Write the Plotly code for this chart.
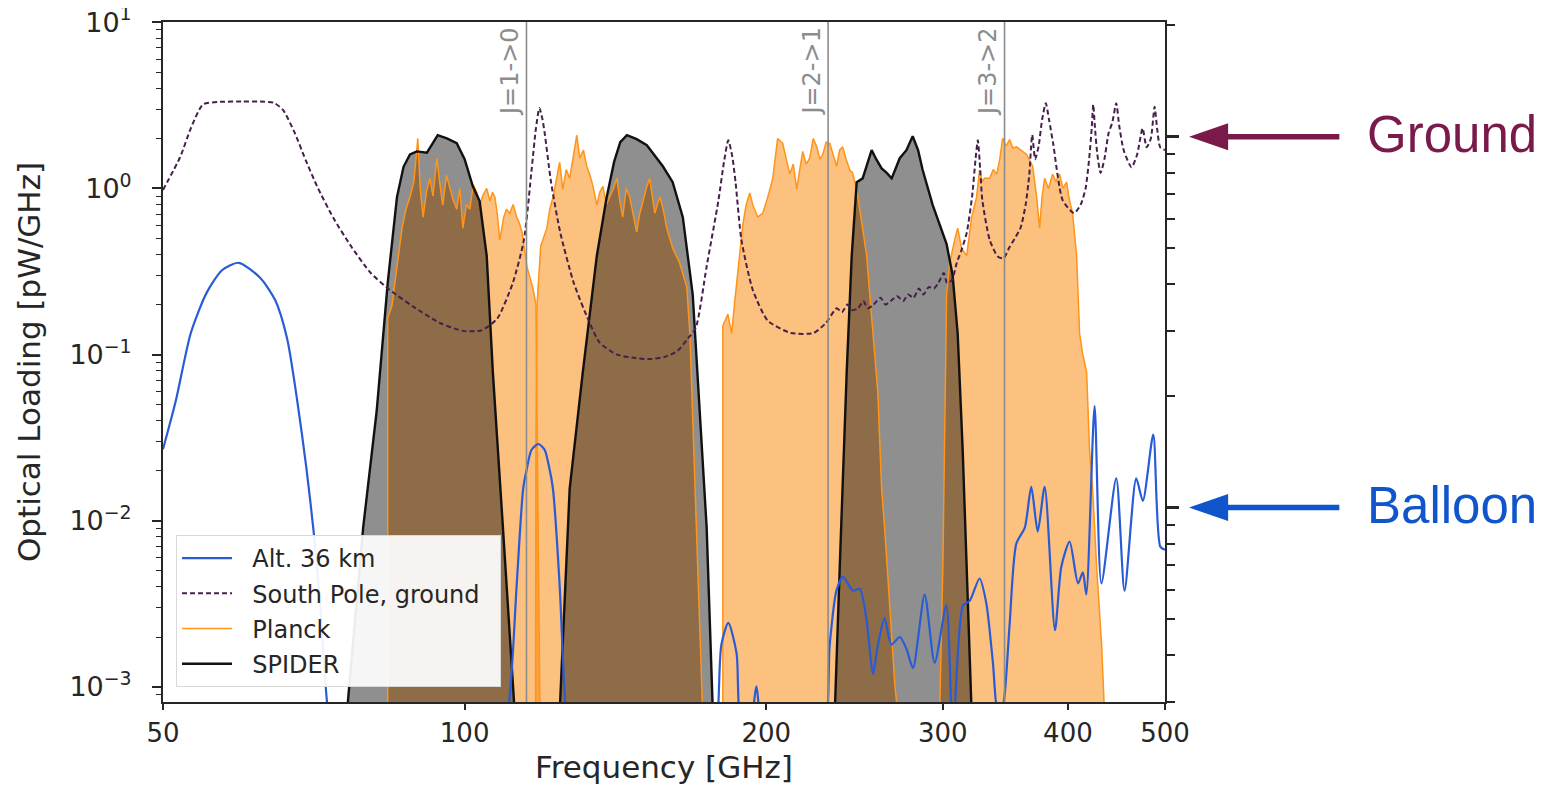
import math
import plotly.graph_objects as go

# ---------------- data ----------------
# Alt. 36 km (balloon) atmospheric loading
ALT_F = [50, 51.5, 53.3, 55.3, 57.3, 59.5, 62.5, 64.7, 66.5, 68.0, 69.5, 70.7, 71.7, 72.9, 76, 90, 105,
         110.9, 112.7, 114.4, 115.3, 116.6, 118.5, 120.2, 121.6, 122.5, 124.4, 125.9, 130, 150, 170,
         178.4, 180.4, 183.3, 186.8, 188.9, 192.6, 195.5, 197.8, 210, 227.9, 231.4, 235.0, 238.6, 244.1,
         247.9, 251.7, 255.6, 258.5, 262.5, 266.6, 271.8, 276.0, 280.2, 287.8, 294.5, 302.5, 307.1,
         314.3, 319.2, 326.5, 331.6, 336.7, 340.6, 343.3, 345.9, 349.9, 355.3, 362.3, 367.7, 373.2,
         379.2, 388.3, 394.0, 401.6, 409.4, 414.0, 417.3, 425.3, 432.0, 447.0, 455.6, 468.0, 475.2,
         486.7, 494.6, 500]
ALT_V = [0.027, 0.053, 0.135, 0.237, 0.323, 0.357, 0.29, 0.213, 0.125, 0.055, 0.021, 0.0085, 0.0033,
         0.0008, 0.0001, 0.00003, 0.0001,
         0.00088, 0.0041, 0.0156, 0.0202, 0.0267, 0.029, 0.0267, 0.0202, 0.0156, 0.0041, 0.00088,
         0.0001, 0.00003, 0.0001,
         0.0005, 0.0018, 0.00243, 0.0016, 0.0006, 0.0006, 0.00101, 0.0006, 0.0003, 0.0005, 0.0018,
         0.0038, 0.0046, 0.0038, 0.0039, 0.0026, 0.0012, 0.0018, 0.0026, 0.0018, 0.0020, 0.0017,
         0.0013, 0.0036, 0.0014, 0.0031, 0.0005, 0.0031, 0.0033, 0.0045, 0.0032, 0.0014, 0.0007,
         0.0007, 0.0009, 0.0024, 0.0073, 0.0091, 0.016, 0.0086, 0.016, 0.0022, 0.0053, 0.0075,
         0.0042, 0.0049, 0.0036, 0.049, 0.0042, 0.018, 0.0038, 0.018, 0.0132, 0.033, 0.007, 0.0067]

# South Pole, ground
GND_F = [50, 52.0, 53.3, 54.8, 57, 60, 62.5, 64.5, 65.9, 67.7, 69.4, 71.3, 73.9, 77.2, 80.6, 84.2,
         88.8, 94.5, 99.6, 104.0, 107.8, 111.7, 114.6, 116.7, 117.8, 118.75, 119.6, 120.2, 122.0,
         124.6, 128.5, 133.0, 136.4, 142, 148.9, 153, 158.4, 163, 167.0, 170.1, 174.4, 179.2, 181.5,
         183.3, 185, 186.4, 188.9, 193.9, 200.7, 211.6, 223.0, 229.4, 235.1, 238, 241, 243.7, 247,
         250, 252.5, 256, 260, 263, 266.2, 270, 274, 277, 280.6, 284, 287, 290.5, 294, 297, 300.8,
         303, 306.3, 310, 313, 317.0, 321, 323.5, 325.2, 327, 328.6, 334.2, 340.4, 345, 349.5, 354,
         358.8, 363, 366, 368.5, 371, 374, 377, 380.2, 383, 386.6, 395.2, 405.7, 412, 416.6, 420,
         422.5, 424, 425.5, 428, 431.2, 435, 439.2, 443, 447.0, 450, 454.7, 463.0, 469, 474.9,
         479.3, 484, 488.2, 491, 494.5, 500]
GND_V = [0.98, 1.54, 2.3, 3.2, 3.32, 3.33, 3.33, 3.28, 2.96, 2.15, 1.48, 1.02, 0.67, 0.44, 0.31, 0.245,
         0.195, 0.155, 0.139, 0.14, 0.165, 0.27, 0.49, 1.34, 2.3, 3.05, 2.6, 2.15, 1.08,
         0.54, 0.27, 0.16, 0.118, 0.1, 0.095, 0.094, 0.097, 0.105, 0.125, 0.145, 0.34, 0.85, 1.45,
         1.95, 1.55, 1.08, 0.49, 0.245, 0.16, 0.135, 0.135, 0.155, 0.19, 0.18, 0.2, 0.185, 0.19,
         0.21, 0.19, 0.2, 0.22, 0.2, 0.21, 0.225, 0.21, 0.23, 0.22, 0.25, 0.23, 0.255, 0.25, 0.27, 0.31,
         0.27, 0.28, 0.36, 0.42, 0.54, 0.9, 1.5, 1.95, 1.3, 0.85, 0.49, 0.39, 0.38, 0.44, 0.5,
         0.58, 0.8, 1.2, 2.1, 1.5, 1.8, 2.6, 3.26, 2.6, 1.88, 0.85, 0.71, 0.8, 1.0, 1.5,
         2.3, 3.2, 2.4, 1.6, 1.24, 1.5, 2.15, 2.5, 3.26, 2.4, 1.7, 1.34, 1.6, 2.3,
         1.77, 2.0, 3.1, 2.3, 1.77, 1.7]

# Planck HFI bands
P100_F = [83.8, 84.6, 85.6, 86.6, 87.4, 88.2, 89.0, 89.8, 90.3, 90.9, 91.6, 92.3, 93.0, 93.8, 94.4,
          95.1, 95.9, 96.7, 97.4, 98.2, 98.9, 99.6, 100.4, 101.2, 102.0, 102.9, 103.6, 104.3, 105.2,
          106.0, 106.6, 107.2, 107.8, 108.4, 109.4, 110.1, 110.9, 111.8, 112.7, 113.4, 114.1, 115.4,
          117.0, 117.8, 118.2, 118.9]
P100_V = [0.166, 0.196, 0.337, 0.577, 0.75, 0.887, 1.1, 2.0, 1.0, 0.672, 0.95, 1.15, 0.9, 1.52, 1.1,
          0.794, 1.2, 0.99, 0.85, 0.75, 1.0, 0.577, 0.8, 0.75, 1.05, 0.94, 0.8, 0.91, 1.0,
          0.84, 0.95, 0.887, 0.7, 0.489, 0.672, 0.75, 0.71, 0.8, 0.672, 0.62, 0.546, 0.337,
          0.25, 0.2, 0.03, 0.0007]
P143_F = [117.6, 117.8, 118.1, 119.1, 120.8, 121.6, 122.6, 123.6, 124.4, 125.3, 126.3, 127.3, 128.4,
          129.4, 130.3, 131.4, 132.4, 133.4, 134.3, 135.5, 136.4, 137.4, 138.5, 139.6, 140.8, 141.9,
          142.8, 143.8, 145.0, 146.1, 147.3, 148.5, 149.5, 150.6, 151.8, 153.0, 154.8, 156.6, 157.8,
          159.1, 161.3, 163.9, 166.6, 167.8, 169.3, 170.9, 172.8]
P143_V = [0.0007, 0.03, 0.2, 0.45, 0.577, 0.75, 0.9, 1.15, 1.44, 0.99, 1.3, 1.15, 1.6,
          2.09, 1.52, 1.7, 1.36, 1.2, 1.03, 0.794, 0.95, 1.03, 0.8, 0.89, 1.0, 1.15,
          0.85, 0.672, 1.0, 0.89, 0.7, 0.546, 0.7, 0.84, 1.0, 1.15, 0.71, 0.89, 0.75,
          0.577, 0.437, 0.356, 0.255, 0.134, 0.03, 0.005, 0.0007]
P217_F = [181.0, 183.1, 184.7, 186.0, 188.2, 189.5, 191.0, 192.6, 193.9, 196.1, 198.4, 200.7, 203.0,
          205.3, 207.7, 209.5, 211.1, 212.8, 214.5, 216.0, 217.5, 219.2, 221.0, 222.8, 224.6, 226.2,
          227.7, 229.5, 231.4, 233.2, 235.1, 236.7, 238.4, 240.3, 242.3, 243.8, 245.0, 246.5, 247.9,
          249.6, 251.9, 253.7, 255.4, 258.4, 260.7, 262.5, 265.6, 268.7, 270.5]
P217_V = [0.149, 0.175, 0.134, 0.207, 0.394, 0.605, 0.8, 0.94, 0.794, 0.672, 0.71, 0.887, 1.15,
          2.0, 1.87, 1.5, 1.22, 1.4, 0.99, 1.3, 1.67, 1.4, 1.52, 2.0, 1.78, 1.5,
          1.6, 1.9, 1.87, 1.6, 1.36, 1.7, 1.78, 1.5, 1.29, 1.25, 1.09, 0.95, 0.75,
          0.577, 0.394, 0.23, 0.134, 0.06, 0.0156, 0.0091, 0.0031, 0.00104, 0.0007]
P353_F = [297.9, 300.1, 301.5, 302.7, 304.8, 306.9, 308.3, 310.5, 313.3, 317.0, 320.6, 324.3, 326.5,
          328.4, 330.3, 334.2, 337, 339.6, 342, 344.3, 347, 349.9, 352.5, 355.5, 359.5, 363.8, 368.9,
          372.3, 374.8, 377, 379.2, 382.5, 386.2, 389, 392.4, 395.5, 398.8, 401.6, 404.3, 408.1,
          410.9, 413.7, 417.6, 420.4, 423.4, 427.3, 432.2, 435.1]
P353_V = [0.0007, 0.0053, 0.0458, 0.23, 0.356, 0.437, 0.489, 0.577, 0.437, 0.394, 0.672, 0.887, 1.29,
          1.1, 1.15, 1.15, 1.3, 1.22, 1.5, 2.0, 1.8, 1.97, 1.75, 1.78, 1.7, 1.6, 1.36,
          0.887, 0.577, 0.9, 1.15, 1.0, 1.22, 1.1, 1.22, 1.0, 1.09, 0.84, 0.71, 0.394,
          0.134, 0.102, 0.0785, 0.0267, 0.0156, 0.0053, 0.0018, 0.0007]

# SPIDER bands
S95_F = [76.3, 79.2, 80.5, 81.7, 83.8, 85.6, 86.9, 88.2, 89.6, 91.7, 94.0, 96.0, 98.2, 100.0, 101.9,
         103.5, 105.2, 106.7, 109.2, 112.2]
S95_V = [0.0007, 0.0091, 0.022, 0.0458, 0.27, 0.887, 1.35, 1.60, 1.67, 1.64, 2.09, 2.0, 1.87, 1.5, 1.03,
         0.84, 0.394, 0.0785, 0.0091, 0.0007]
S150_F = [124.4, 127.3, 131.2, 135.5, 138.6, 141.0, 143.0, 145.2, 148.5, 152.0, 157.7, 161.3, 165.1,
          168.9, 171.7, 174.4, 176.9]
S150_V = [0.0007, 0.0156, 0.0785, 0.394, 0.887, 1.45, 1.9, 2.09, 1.98, 1.82, 1.36, 1.09, 0.672,
          0.23, 0.0458, 0.0091, 0.0007]
S280_F = [234.1, 236.8, 240.6, 243.4, 246.2, 249.6, 254.8, 257.5, 260.7, 263.5, 266.8, 269, 271.8, 276,
          280.0, 283.5, 286.5, 293.2, 302.7, 306.9, 310.5, 314.1, 317.0, 320.6]
S280_V = [0.0007, 0.0053, 0.0785, 0.394, 1.09, 1.15, 1.70, 1.5, 1.32, 1.25, 1.15, 1.3, 1.52, 1.7,
          2.06, 1.7, 1.29, 0.794, 0.462, 0.301, 0.134, 0.0267, 0.0053, 0.0007]

# CO lines
CO_F = [115.27, 230.54, 345.80]
CO_LABELS = ["J=1->0", "J=2->1", "J=3->2"]

# axes
X_TICKS = [50, 100, 200, 300, 400, 500]
Y_TICKS = [1e-3, 1e-2, 1e-1, 1, 10]
Y_TICKTEXT = ["10<sup>\u22123</sup>", "10<sup>\u22122</sup>", "10<sup>\u22121</sup>",
              "10<sup>0</sup>", "10<sup>1</sup>"]
Y_RANGE = [-3.09, 1.0015]
# right-hand reference axis: Ground / Balloon levels
RIGHT_LEVELS = {"Ground": 1.0, "Balloon": 0.1}
RIGHT_COLORS = {"Ground": "#7a1a4a", "Balloon": "#1155cc"}
Y2_RANGE = [-1.524, 0.309]

FLOOR = 1e-5
INK = "#262626"
FONT = "DejaVu Sans"
PAD = "\u00a0\u00a0"  # small gap between legend sample and label


def polygon(f, v):
    return [f[0]] + list(f) + [f[-1]], [FLOOR] + list(v) + [FLOOR]


fig = go.Figure()

planck = [(P100_F, P100_V), (P143_F, P143_V), (P217_F, P217_V), (P353_F, P353_V)]
spider = [(S95_F, S95_V), (S150_F, S150_V), (S280_F, S280_V)]

# fills
for f, v in planck:
    xs, ys = polygon(f, v)
    fig.add_trace(go.Scatter(x=xs, y=ys, mode="lines", fill="toself",
                             fillcolor="rgba(250,130,0,0.5)", line=dict(width=0),
                             showlegend=False, hoverinfo="skip"))
for f, v in spider:
    xs, ys = polygon(f, v)
    fig.add_trace(go.Scatter(x=xs, y=ys, mode="lines", fill="toself",
                             fillcolor="rgba(0,0,0,0.44)", line=dict(width=0),
                             showlegend=False, hoverinfo="skip"))

# CO line markers (on right axis so that axis is drawn)
for f in CO_F:
    fig.add_trace(go.Scatter(x=[f, f], y=[1e-4, 100], mode="lines", yaxis="y2",
                             line=dict(color="#8c8c8c", width=1.6),
                             showlegend=False, hoverinfo="skip"))

# band outlines
for i, (f, v) in enumerate(planck):
    xs, ys = polygon(f, v)
    fig.add_trace(go.Scatter(x=xs, y=ys, mode="lines", name=PAD + "Planck",
                             line=dict(color="#ff9418", width=1.5),
                             legendgroup="planck", showlegend=(i == 0), legendrank=3))
for i, (f, v) in enumerate(spider):
    xs, ys = polygon(f, v)
    fig.add_trace(go.Scatter(x=xs, y=ys, mode="lines", name=PAD + "SPIDER",
                             line=dict(color="#111111", width=2.4),
                             legendgroup="spider", showlegend=(i == 0), legendrank=4))

fig.add_trace(go.Scatter(x=GND_F, y=GND_V, mode="lines",
                         name=PAD + "South Pole, ground" + PAD,
                         line=dict(color="#45204a", width=2, dash="5px,3px", shape="spline",
                                   smoothing=0.6),
                         legendgroup="gnd", legendrank=2))
fig.add_trace(go.Scatter(x=ALT_F, y=ALT_V, mode="lines", name=PAD + "Alt. 36 km",
                         line=dict(color="#2a5bd7", width=2.2, shape="spline", smoothing=0.7),
                         legendgroup="alt", legendrank=1))

annotations = []
for f, lab in zip(CO_F, CO_LABELS):
    annotations.append(dict(x=math.log10(f), xref="x", y=1, yref="paper", text=lab,
                            textangle=-90, xanchor="right", yanchor="top", showarrow=False,
                            xshift=-1, yshift=-3, font=dict(family=FONT, size=24, color="#8c8c8c")))

shapes = []
span = Y2_RANGE[1] - Y2_RANGE[0]
half_h = 13.5 / 680
for name, level in RIGHT_LEVELS.items():
    py = (math.log10(level) - Y2_RANGE[0]) / span
    col = RIGHT_COLORS[name]
    shapes.append(dict(type="line", xref="paper", yref="paper", x0=1.055, x1=1.174, y0=py, y1=py,
                       line=dict(color=col, width=5.5)))
    shapes.append(dict(type="path", xref="paper", yref="paper",
                       path=f"M 1.024,{py} L 1.063,{py + half_h} L 1.063,{py - half_h} Z",
                       fillcolor=col, line=dict(color=col, width=0)))
    annotations.append(dict(x=1.1996, xref="paper", y=math.log10(level), yref="y2", text=name,
                            xanchor="left", yanchor="middle", showarrow=False, yshift=2,
                            font=dict(family="Liberation Sans", size=51, color=col)))

axis_common = dict(showgrid=False, zeroline=False, showline=True, linewidth=2, linecolor=INK,
                   tickcolor=INK, ticks="outside", automargin=False)

y_minor = [k * 10.0 ** d for d in range(-4, 1) for k in range(2, 10)]
y2_minor = [k * 10.0 ** d for d in range(-2, 1) for k in range(2, 10)]

# the page places the figure 8px from the top-left corner
fig.update_layout(
    width=1539, height=780,
    margin=dict(l=155, r=382, t=14, b=86, autoexpand=False),
    paper_bgcolor="white", plot_bgcolor="white",
    font=dict(family=FONT, color=INK, size=24),
    xaxis=dict(type="log", range=[math.log10(50), math.log10(500)], tickvals=X_TICKS,
               ticktext=[str(t) for t in X_TICKS], ticklen=6, tickwidth=1.5, mirror=True,
               tickfont=dict(size=26, color=INK), ticklabelstandoff=1,
               ticklabeloverflow="allow",
               title=dict(text="Frequency [GHz]", font=dict(size=31, color=INK), standoff=9),
               **axis_common),
    yaxis=dict(type="log", range=Y_RANGE, tickvals=Y_TICKS, ticktext=Y_TICKTEXT, ticklen=9,
               tickwidth=1.6, tickfont=dict(size=27, color=INK), ticklabelstandoff=15,
               ticklabeloverflow="allow",
               minor=dict(tickvals=y_minor, ticklen=5, tickwidth=1.2, ticks="outside",
                          tickcolor=INK),
               title=dict(text="Optical Loading [pW/GHz]", font=dict(size=31, color=INK),
                          standoff=20),
               **axis_common),
    yaxis2=dict(type="log", range=Y2_RANGE, overlaying="y", side="right", tickvals=[0.1, 1],
                showticklabels=False, ticklen=12, tickwidth=3,
                minor=dict(tickvals=y2_minor, ticklen=8, tickwidth=1.5, ticks="outside",
                           tickcolor=INK),
                **axis_common),
    legend=dict(x=0.013, y=0.2456, xanchor="left", yanchor="top", bgcolor="rgba(255,255,255,0.92)",
                bordercolor="#d9d9d9", borderwidth=1, font=dict(size=24, color=INK),
                tracegroupgap=1, traceorder="grouped", itemwidth=50),
    annotations=annotations,
    shapes=shapes,
    showlegend=True,
)

fig.write_html("out.html")
